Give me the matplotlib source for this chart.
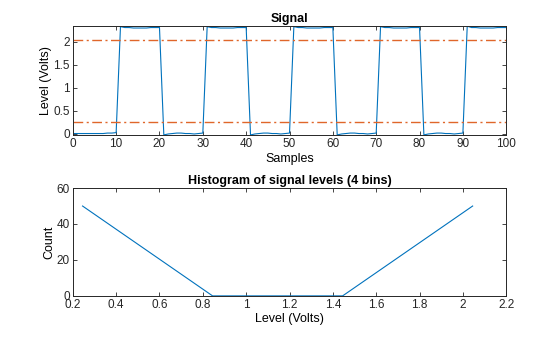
import matplotlib
matplotlib.use('Agg')
import matplotlib.pyplot as plt
import numpy as np

plt.rcParams['font.family'] = ['Liberation Sans', 'DejaVu Sans']
plt.rcParams['font.size'] = 8.5

# signal, one value per sample (0..100)
samples = list(range(101))
signal = [
    0.00, 0.00, 0.00, 0.00, 0.00, 0.00, 0.00, 0.00, 0.01, 0.01, 0.02,
    2.33, 2.31, 2.31, 2.30, 2.30, 2.30, 2.30, 2.31, 2.31, 2.31,
    -0.03, -0.01, 0.00, 0.01, 0.01, 0.00, 0.00, -0.01, 0.00, 0.01,
    2.33, 2.31, 2.31, 2.30, 2.30, 2.30, 2.30, 2.31, 2.31, 2.31,
    -0.03, -0.01, 0.00, 0.01, 0.01, 0.00, 0.00, -0.01, 0.00, 0.01,
    2.33, 2.31, 2.31, 2.30, 2.30, 2.30, 2.30, 2.31, 2.31, 2.31,
    -0.03, -0.01, 0.00, 0.01, 0.01, 0.00, 0.00, -0.01, 0.00, 0.01,
    2.33, 2.31, 2.31, 2.30, 2.30, 2.30, 2.30, 2.31, 2.31, 2.31,
    -0.03, -0.01, 0.00, 0.01, 0.01, 0.00, 0.00, -0.01, 0.00, 0.01,
    2.34, 2.31, 2.31, 2.30, 2.30, 2.30, 2.30, 2.31, 2.31, 2.31,
]
levels = [0.245, 2.045]

bin_centers = [0.245, 0.845, 1.445, 2.045]
counts = [50, 0, 0, 50]

blue = '#0072BD'
orange = '#E0662A'

fig = plt.figure(figsize=(5.6, 3.37), dpi=100)
ax1 = fig.add_axes([0.130, 0.599, 0.774, 0.324])
ax2 = fig.add_axes([0.130, 0.122, 0.774, 0.320])

# %% signal
ax1.plot(samples, signal, color=blue, lw=0.8)
for lv in levels:
    ax1.axhline(lv, color=orange, lw=1.0, ls=(0, (7, 2.5, 1.5, 2.5)))
ax1.set_xlim(0, 100)
ax1.set_ylim(-0.035, 2.345)
ax1.set_xticks(range(0, 101, 10))
ax1.set_yticks([0, 0.5, 1, 1.5, 2])
ax1.set_yticklabels(['0', '0.5', '1', '1.5', '2'])
ax1.set_title('Signal', fontweight='bold', fontsize=9, pad=3)
ax1.set_xlabel('Samples', fontsize=9, labelpad=2)
ax1.set_ylabel('Level (Volts)', fontsize=9, labelpad=1)

# %% histogram
ax2.plot(bin_centers, counts, color=blue, lw=0.8)
ax2.set_xlim(0.2, 2.2)
ax2.set_ylim(0, 60)
ax2.set_xticks(np.arange(0.2, 2.21, 0.2))
ax2.set_xticklabels(['0.2', '0.4', '0.6', '0.8', '1', '1.2', '1.4', '1.6', '1.8', '2', '2.2'])
ax2.set_yticks([0, 20, 40, 60])
ax2.set_title('Histogram of signal levels (4 bins)', fontweight='bold', fontsize=9, pad=3)
ax2.set_xlabel('Level (Volts)', fontsize=9, labelpad=2)
ax2.set_ylabel('Count', fontsize=9, labelpad=1)

for ax in (ax1, ax2):
    ax.tick_params(direction='in', top=True, right=True, length=3, width=0.6,
                   pad=2, labelsize=8.5, colors='#262626')
    for s in ax.spines.values():
        s.set_linewidth(0.7)
        s.set_color('#262626')

fig.savefig('out.png', dpi=100)
